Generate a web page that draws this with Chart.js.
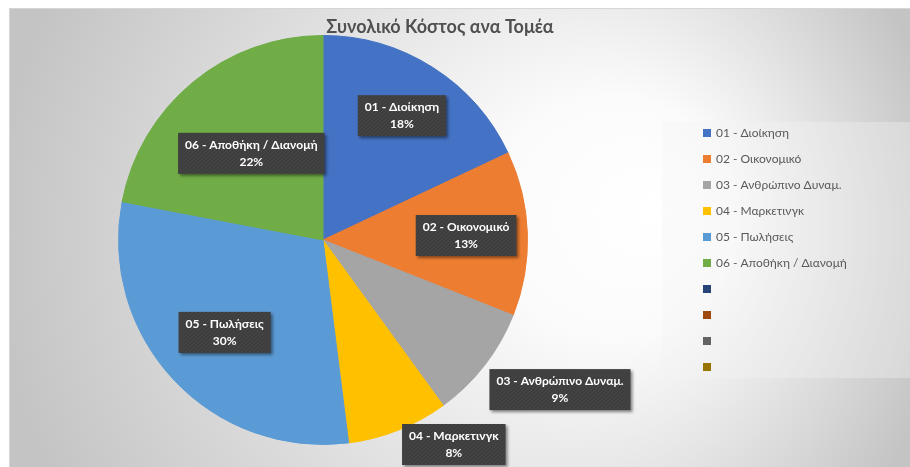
<!DOCTYPE html>
<html>
<head>
<meta charset="utf-8">
<script src="https://cdn.jsdelivr.net/npm/chart.js@4/dist/chart.umd.min.js"></script>
<style>
    html, body { margin: 0; padding: 0; background: #fff; }
    #wrap { width: 910px; height: 467px; position: relative; }
</style>
</head>
<body>
<div id="wrap"><canvas id="costChart"></canvas></div>
<script>
// Chart data
const chartTitle = 'Συνολικό Κόστος ανα Τομέα';
const categories = [
    '01 - Διοίκηση',
    '02 - Οικονομικό',
    '03 - Ανθρώπινο Δυναμ.',
    '04 - Μαρκετινγκ',
    '05 - Πωλήσεις',
    '06 - Αποθήκη / Διανομή',
    '', '', '', ''
];
const shares = [18, 13, 9, 8, 30, 22, 0, 0, 0, 0];
const sliceColors = [
    '#4472C4', '#ED7D31', '#A5A5A5', '#FFC000', '#5B9BD5', '#70AD47',
    '#264478', '#9E480E', '#636363', '#997300'
];
// where each data label sits: fraction of radius along the slice middle, outside = box starts at that point
const labelRadius = [0.72, 0.7, 1.03, 1.05, 0.66, 0.55];
const labelOutside = [false, false, true, true, false, false];

const FONT = "Lato, 'Noto Sans', sans-serif";

// Background, title and legend box (drawn before the pie)
const backgroundPlugin = {
    id: 'excelBackground',
    beforeDraw(chart) {
        const c = chart.ctx;
        const w = chart.width, h = chart.height;
        c.save();
        c.fillStyle = '#ffffff';
        c.fillRect(0, 0, w, h);
        const g = c.createRadialGradient(660, 210, 0, 470, 238, 480);
        g.addColorStop(0, '#ffffff');
        g.addColorStop(0.25, '#fbfbfb');
        g.addColorStop(1, '#c4c4c4');
        c.fillStyle = g;
        c.fillRect(9, 8, w - 9, h - 8);
        c.strokeStyle = '#d6d6d6';
        c.lineWidth = 1;
        c.beginPath();
        c.moveTo(9.5, h);
        c.lineTo(9.5, 8.5);
        c.lineTo(w, 8.5);
        c.stroke();

        // legend box
        c.fillStyle = 'rgba(244, 244, 244, 0.35)';
        c.fillRect(662, 122, w - 662, 256);

        // title
        c.fillStyle = '#505050';
        c.font = 'bold 18px ' + FONT;
        c.textAlign = 'center';
        c.textBaseline = 'middle';
        c.fillText(chartTitle, 440, 27);
        c.restore();
    }
};

// Legend drawn on the right
const legendPlugin = {
    id: 'excelLegend',
    afterDraw(chart) {
        const c = chart.ctx;
        const ds = chart.data.datasets[0];
        c.save();
        c.font = '12px ' + FONT;
        c.textAlign = 'left';
        c.textBaseline = 'middle';
        chart.data.labels.forEach((label, i) => {
            const y = 133 + i * 26;
            c.fillStyle = ds.backgroundColor[i];
            c.fillRect(703, y - 4, 8, 8);
            if (label) {
                c.fillStyle = '#595959';
                c.fillText(label, 716, y);
            }
        });
        c.restore();
    }
};

// Dark boxed data labels (category + percent)
function makeTexture() {
    const p = document.createElement('canvas');
    p.width = 4; p.height = 4;
    const pc = p.getContext('2d');
    pc.fillStyle = '#3e3e3e';
    pc.fillRect(0, 0, 4, 4);
    pc.fillStyle = '#474747';
    pc.fillRect(0, 0, 1, 1);
    pc.fillRect(2, 2, 1, 1);
    pc.fillRect(1, 3, 1, 1);
    pc.fillRect(3, 1, 1, 1);
    return p;
}
const texture = makeTexture();

const dataLabelPlugin = {
    id: 'boxedLabels',
    afterDatasetsDraw(chart) {
        const c = chart.ctx;
        const meta = chart.getDatasetMeta(0);
        const values = chart.data.datasets[0].data;
        const total = values.reduce((a, b) => a + b, 0);
        const pattern = c.createPattern(texture, 'repeat');
        c.save();
        c.font = 'bold 12px ' + FONT;
        c.textAlign = 'center';
        c.textBaseline = 'middle';
        meta.data.forEach((arc, i) => {
            if (!values[i]) return;
            const p = arc.getProps(['x', 'y', 'startAngle', 'endAngle', 'outerRadius'], true);
            const mid = (p.startAngle + p.endAngle) / 2;
            const r = p.outerRadius * labelRadius[i];
            const ax = p.x + Math.cos(mid) * r;
            const ay = p.y + Math.sin(mid) * r;
            const lines = [chart.data.labels[i], Math.round(values[i] / total * 100) + '%'];
            const tw = Math.max(...lines.map(t => c.measureText(t).width));
            const bw = tw + 14, bh = 41;
            let bx, by;
            if (labelOutside[i]) {
                bx = ax;
                by = Math.min(ay, chart.height - bh - 2);
            } else {
                bx = ax - bw / 2;
                by = ay - bh / 2;
            }
            c.save();
            c.shadowColor = 'rgba(0, 0, 0, 0.45)';
            c.shadowBlur = 3;
            c.shadowOffsetX = 2;
            c.shadowOffsetY = 2;
            c.fillStyle = pattern;
            c.fillRect(bx, by, bw, bh);
            c.restore();
            c.fillStyle = '#ffffff';
            c.fillText(lines[0], bx + bw / 2, by + 12);
            c.fillText(lines[1], bx + bw / 2, by + 29);
        });
        c.restore();
    }
};

const ctx = document.getElementById('costChart').getContext('2d');
const costChart = new Chart(ctx, {
    type: 'pie',
    data: {
        labels: categories,
        datasets: [{
            data: shares,
            backgroundColor: sliceColors,
            borderColor: sliceColors,
            borderWidth: 1
        }]
    },
    options: {
        responsive: true,
        maintainAspectRatio: false,
        animation: false,
        layout: {
            padding: { left: 118, right: 382, top: 35, bottom: 22 }
        },
        plugins: {
            legend: { display: false },
            title: { display: false },
            tooltip: { enabled: false }
        }
    },
    plugins: [backgroundPlugin, dataLabelPlugin, legendPlugin]
});
</script>
</body>
</html>
